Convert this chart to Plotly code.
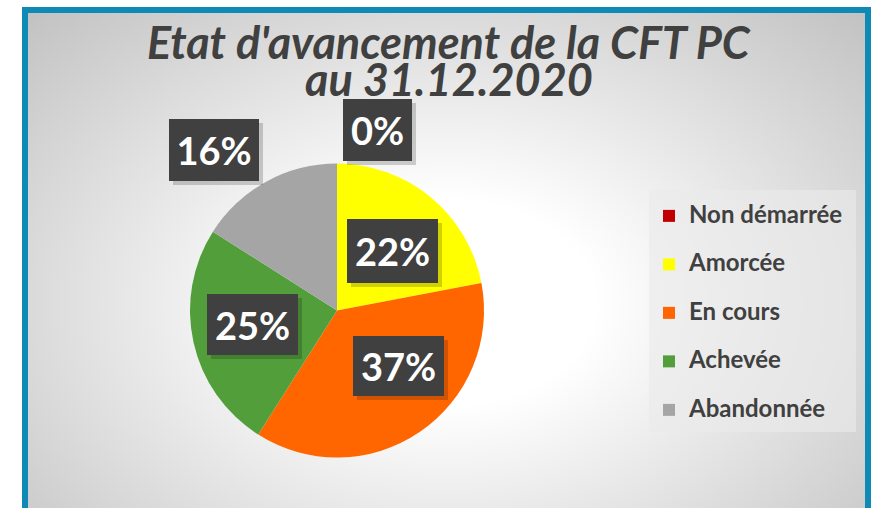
import base64
import plotly.graph_objects as go

# ---------------- data ----------------
categories = ["Non démarrée", "Amorcée", "En cours", "Achevée", "Abandonnée"]
values = [0, 22, 37, 25, 16]
colors = ["#c00000", "#ffff00", "#ff6600", "#529e3b", "#a5a5a5"]
title_lines = ["Etat d'avancement de la CFT PC", "au 31.12.2020"]

# data-label boxes: centre (px) and size (px), same order as categories
label_centers = [(377.5, 130), (392, 251), (398.5, 366), (252.5, 324.5), (214, 150)]
label_sizes = [(69, 62), (91, 64), (91, 60), (91, 61), (90, 62)]

W, H = 875, 508
FONT = "Lato"
TXT = "#404040"

# ---------------- background (frame + radial gradient) ----------------
svg = f"""<svg xmlns='http://www.w3.org/2000/svg' width='{W}' height='{H}' viewBox='0 0 {W} {H}'>
<defs>
<radialGradient id='g' cx='0.5' cy='0.5' r='0.7071' gradientUnits='objectBoundingBox'>
<stop offset='0' stop-color='#ffffff'/>
<stop offset='0.25' stop-color='#ffffff'/>
<stop offset='1' stop-color='#c2c2c2'/>
</radialGradient>
</defs>
<rect x='0' y='0' width='{W}' height='{H}' fill='#ffffff'/>
<rect x='22' y='7' width='849' height='620' fill='#0e8ab5'/>
<rect x='28' y='13' width='837' height='580' fill='url(#g)'/>
</svg>"""
bg_uri = "data:image/svg+xml;base64," + base64.b64encode(svg.encode()).decode()

def px_x(x):
    return x / W

def px_y(y):
    return 1 - y / H

fig = go.Figure()

legend_labels = [f"<span style='font-size:24px'>{c}</span><br> " for c in categories]

fig.add_trace(go.Pie(
    labels=legend_labels,
    values=values,
    marker=dict(colors=colors, line=dict(width=0)),
    sort=False,
    direction="clockwise",
    rotation=0,
    textinfo="none",
    hoverinfo="percent",
    domain=dict(x=[px_x(190), px_x(484)], y=[px_y(457.5), px_y(163.5)]),
    showlegend=True,
))

annotations = []
# title
title_y = [42.5, 79.5]
for line, ty in zip(title_lines, title_y):
    annotations.append(dict(
        text=line, x=px_x(448.5), y=px_y(ty), xref="paper", yref="paper",
        xanchor="center", yanchor="middle", showarrow=False,
        font=dict(family=FONT, size=45, color=TXT, weight="bold", style="italic"),
    ))

# data labels with shadow
for v, (cx, cy), (bw, bh) in zip(values, label_centers, label_sizes):
    annotations.append(dict(
        text=" ", x=px_x(cx + 4), y=px_y(cy + 4), xref="paper", yref="paper",
        xanchor="center", yanchor="middle", showarrow=False,
        width=bw, height=bh, borderpad=0, borderwidth=0,
        bgcolor="rgba(0,0,0,0.18)",
    ))
    annotations.append(dict(
        text=f"{v}%", x=px_x(cx), y=px_y(cy), xref="paper", yref="paper",
        xanchor="center", yanchor="middle", showarrow=False,
        width=bw, height=bh, borderpad=0, borderwidth=0,
        bgcolor="#404040",
        font=dict(family=FONT, size=38, color="#ffffff", weight="bold"),
    ))

fig.update_layout(
    width=W, height=H,
    margin=dict(l=0, r=0, t=0, b=0),
    paper_bgcolor="#ffffff",
    images=[dict(source=bg_uri, xref="paper", yref="paper", x=0, y=1,
                 sizex=1, sizey=1, xanchor="left", yanchor="top",
                 sizing="stretch", layer="below")],
    shapes=[dict(type="rect", xref="paper", yref="paper", layer="below",
                 x0=px_x(649), x1=px_x(856), y0=px_y(432), y1=px_y(190),
                 fillcolor="rgba(234,234,234,0.63)", line=dict(width=0))],
    legend=dict(
        x=px_x(649), y=px_y(198), xanchor="left", yanchor="top",
        bgcolor="rgba(0,0,0,0)", borderwidth=0,
        font=dict(family=FONT, size=17.5, color=TXT, weight="bold"),
        valign="top",
        traceorder="normal",
    ),
    annotations=annotations,
)

fig.write_html("out.html", config={"displayModeBar": False},
               post_script="document.body.style.margin='0';")
